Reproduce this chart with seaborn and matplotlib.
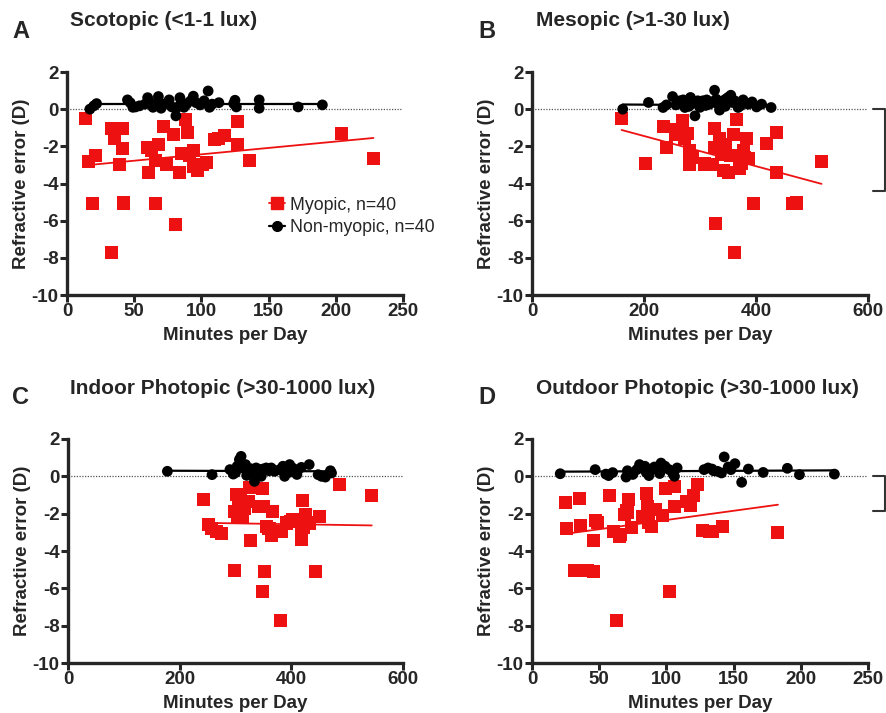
import matplotlib
matplotlib.use("Agg")
import matplotlib.pyplot as plt
from matplotlib.lines import Line2D
import seaborn as sns
import pandas as pd

# Panel A: scotopic light (<1-1 lux)
scot_myo_x = [14, 16, 21, 19, 33, 35, 37, 41, 41, 39, 42, 33, 60, 63, 61, 66, 68, 66, 72, 74,
              79, 81, 84, 85, 88, 90, 91, 94, 94, 97, 101, 104, 110, 113, 117, 127, 127, 136, 204, 228]
scot_myo_y = [-0.48, -2.8, -2.5, -5.1, -1.05, -1.6, -1.05, -1.05, -2.1, -3.0, -5.05, -7.7, -2.05, -2.2, -3.4, -2.75, -1.9, -5.1, -0.95, -3.0,
              -1.35, -6.2, -3.4, -2.4, -0.57, -1.25, -2.5, -2.2, -3.1, -3.3, -3.0, -2.85, -1.65, -1.6, -1.4, -0.65, -1.9, -2.75, -1.3, -2.65]
scot_non_x = [17, 20, 22, 45, 47, 49, 51, 54, 58, 60, 62, 64, 66, 68, 70, 72, 76, 78, 81, 82,
              84, 85, 87, 89, 92, 94, 96, 99, 102, 105, 106, 108, 113, 124, 125, 126, 143, 143, 172, 190]
scot_non_y = [0.0, 0.18, 0.3, 0.5, 0.35, 0.1, 0.12, 0.18, 0.27, 0.62, 0.35, 0.1, 0.3, 0.68, 0.05, 0.27, 0.5, 0.12, -0.36, 0.1,
              0.62, 0.4, 0.1, 0.27, 0.45, 0.7, 0.35, 0.23, 0.45, 0.98, 0.1, 0.27, 0.35, 0.3, 0.48, 0.12, 0.5, 0.05, 0.12, 0.23]
scot_fit_myo = ([17, 228], [-3.0, -1.55])
scot_fit_non = ([17, 190], [0.27, 0.27])

# Panel B: mesopic light (>1-30 lux)
meso_myo_x = [160, 202, 235, 241, 256, 257, 268, 272, 278, 282, 287, 282, 308, 322, 326, 326, 328, 335, 338, 340,
              342, 346, 351, 354, 359, 362, 366, 371, 374, 377, 380, 383, 387, 396, 418, 436, 437, 466, 472, 517]
meso_myo_y = [-0.48, -2.9, -0.95, -2.05, -1.07, -1.35, -0.6, -1.6, -1.3, -2.2, -2.6, -2.95, -2.95, -3.0, -1.05, -2.05, -6.15, -1.6, -2.45, -1.9,
              -3.3, -2.05, -3.4, -2.5, -1.35, -7.7, -0.57, -3.2, -2.9, -2.2, -2.6, -1.6, -2.65, -5.1, -1.87, -1.25, -3.43, -5.1, -5.05, -2.82]
meso_non_x = [162, 208, 234, 240, 251, 257, 264, 270, 273, 278, 283, 287, 291, 296, 305, 312, 317, 326, 329, 332,
              335, 341, 346, 350, 355, 358, 362, 368, 372, 377, 386, 393, 401, 410, 427, 280, 300, 310, 323, 345]
meso_non_y = [0.0, 0.36, 0.09, 0.23, 0.68, 0.23, 0.45, 0.5, 0.09, 0.36, 0.63, 0.3, -0.36, 0.45, 0.45, 0.5, 0.27, 1.02, 0.54, 0.27,
              -0.05, 0.45, 0.54, 0.63, 0.75, 0.36, 0.45, 0.09, 0.18, 0.5, 0.27, 0.39, 0.12, 0.27, 0.09, 0.15, 0.1, 0.2, 0.4, 0.15]
meso_fit_myo = ([160, 517], [-1.12, -4.02])
meso_fit_non = ([162, 430], [0.25, 0.2])

# Panel C: indoor photopic light (>30-1000 lux)
indo_myo_x = [243, 251, 257, 266, 275, 298, 298, 301, 303, 306, 309, 313, 316, 324, 325, 326, 342, 348, 349, 350,
              352, 355, 366, 364, 382, 381, 391, 403, 418, 418, 420, 421, 426, 433, 444, 450, 487, 544, 398, 360]
indo_myo_y = [-1.25, -2.6, -2.8, -2.95, -3.05, -5.05, -1.87, -0.98, -2.15, -1.5, -1.25, -2.15, -1.7, -1.35, -0.6, -3.43, -1.6, -6.15, -0.63, -1.6,
              -5.1, -2.7, -1.87, -3.15, -2.95, -7.7, -2.5, -2.3, -3.4, -3.1, -1.3, -2.75, -2.05, -2.5, -5.1, -2.15, -0.45, -1.05, -2.4, -2.8]
indo_non_x = [178, 258, 290, 296, 303, 307, 310, 313, 318, 322, 327, 330, 334, 337, 342, 346, 349, 355, 364, 370,
              379, 385, 388, 391, 397, 402, 412, 418, 432, 448, 454, 461, 470, 472, 300, 320, 340, 360, 395, 410]
indo_non_y = [0.27, 0.09, 0.36, 0.12, 0.54, 0.9, 1.07, 0.45, 0.63, 0.27, 0.41, 0.18, -0.27, 0.45, 0.36, 0.0, 0.39, 0.45, 0.45, 0.27,
              0.36, 0.54, 0.0, 0.36, 0.63, 0.45, 0.36, 0.48, 0.63, 0.09, 0.0, -0.04, 0.3, 0.18, 0.2, 0.05, 0.15, 0.3, 0.2, 0.1]
indo_fit_myo = ([260, 544], [-2.5, -2.63])
indo_fit_non = ([178, 472], [0.3, 0.27])

# Panel D: outdoor photopic light (>30-1000 lux)
outd_myo_x = [25, 26, 32, 35, 36, 41, 46, 46, 47, 49, 58, 61, 63, 65, 66, 69, 70, 71, 72, 74,
              82, 85, 86, 87, 89, 92, 97, 99, 102, 106, 106, 115, 118, 120, 123, 127, 132, 134, 142, 183]
outd_myo_y = [-1.4, -2.8, -5.05, -1.2, -2.65, -5.05, -5.1, -3.43, -2.35, -2.45, -1.03, -2.98, -7.7, -3.2, -3.12, -2.05, -1.85, -1.95, -1.25, -2.75,
              -2.15, -0.93, -1.6, -2.45, -2.7, -1.8, -2.1, -0.63, -6.15, -0.57, -1.6, -1.35, -1.57, -1.03, -0.45, -2.9, -2.95, -2.98, -2.68, -3.03]
outd_non_x = [21, 47, 55, 57, 70, 71, 78, 80, 82, 84, 85, 87, 89, 91, 93, 96, 99, 102, 105, 106,
              108, 128, 131, 134, 138, 141, 143, 146, 148, 151, 156, 161, 172, 190, 199, 225, 60, 75, 95, 135]
outd_non_y = [0.14, 0.36, 0.12, 0.04, -0.04, 0.3, 0.36, 0.63, 0.45, 0.54, 0.21, 0.04, 0.36, 0.5, 0.39, 0.71, 0.54, 0.36, 0.12, 0.0,
              0.45, 0.36, 0.45, 0.39, 0.27, 0.18, 1.04, 0.5, 0.36, 0.68, -0.32, 0.39, 0.21, 0.43, 0.09, 0.12, 0.2, 0.1, 0.15, 0.3]
outd_fit_myo = ([26, 183], [-3.07, -1.52])
outd_fit_non = ([21, 225], [0.25, 0.32])

# Significance brackets cut off at the right edge (y range)
bracket_meso_y = [0.0, -4.4]
bracket_outd_y = [0.0, -1.85]

panel_letters = ["A", "B", "C", "D"]
panel_titles = ["Scotopic (<1-1 lux)", "Mesopic (>1-30 lux)",
                "Indoor Photopic (>30-1000 lux)", "Outdoor Photopic (>30-1000 lux)"]
x_limits = [250, 600, 600, 250]
x_steps = [50, 200, 200, 50]
legend_labels = ["Myopic, n=40", "Non-myopic, n=40"]

RED = "#ee1111"
BLACK = "#000000"

sns.set_style("ticks")
plt.rcParams["font.family"] = ["Liberation Sans", "DejaVu Sans"]
plt.rcParams["font.weight"] = "bold"
plt.rcParams["axes.unicode_minus"] = False

fig = plt.figure(figsize=(8.86, 7.13), dpi=100)

W, H = 886, 713
ax_boxes = [(67, 72, 403, 295), (532, 72, 868, 295), (68, 439, 403, 663), (532, 439, 868, 663)]
letter_pos = [(12, 31), (478, 31), (12, 397), (478, 397)]
title_pos = [(70, 21), (536, 21), (70, 388), (536, 388)]

panels = [
    (scot_myo_x, scot_myo_y, scot_non_x, scot_non_y, scot_fit_myo, scot_fit_non),
    (meso_myo_x, meso_myo_y, meso_non_x, meso_non_y, meso_fit_myo, meso_fit_non),
    (indo_myo_x, indo_myo_y, indo_non_x, indo_non_y, indo_fit_myo, indo_fit_non),
    (outd_myo_x, outd_myo_y, outd_non_x, outd_non_y, outd_fit_myo, outd_fit_non),
]

axes = []
for i, (mx, my, nx, ny, fit_m, fit_n) in enumerate(panels):
    l, t, r, b = ax_boxes[i]
    ax = fig.add_axes([l / W, 1 - b / H, (r - l) / W, (b - t) / H])
    axes.append(ax)

    myo = pd.DataFrame({"minutes": mx, "refraction": my})
    non = pd.DataFrame({"minutes": nx, "refraction": ny})

    ax.axhline(0, color="#555555", lw=0.9, ls=(0, (1, 1.2)), zorder=1)

    sns.scatterplot(data=myo, x="minutes", y="refraction", ax=ax, marker="s",
                    color=RED, s=88, edgecolor="none", zorder=3)
    sns.scatterplot(data=non, x="minutes", y="refraction", ax=ax, marker="o",
                    color=BLACK, s=60, edgecolor="none", zorder=4)
    sns.lineplot(x=fit_m[0], y=fit_m[1], ax=ax, color=RED, lw=1.3, zorder=2)
    sns.lineplot(x=fit_n[0], y=fit_n[1], ax=ax, color=BLACK, lw=1.6, zorder=2)

    ax.set_xlim(0, x_limits[i])
    ax.set_ylim(-10, 2)
    ax.set_xticks(range(0, x_limits[i] + 1, x_steps[i]))
    ax.set_yticks(range(-10, 3, 2))
    ax.tick_params(axis="both", labelsize=13.5, width=2.2, length=5, pad=1)
    for lab in ax.get_xticklabels() + ax.get_yticklabels():
        lab.set_fontweight("bold")
    for side in ["left", "bottom"]:
        ax.spines[side].set_linewidth(2.4)
    sns.despine(ax=ax)

    ax.set_xlabel("Minutes per Day", fontsize=13.5, fontweight="bold", labelpad=5)
    ax.set_ylabel("Refractive error (D)", fontsize=13.5, fontweight="bold", labelpad=1)

    lx, ly = letter_pos[i]
    fig.text(lx / W, 1 - ly / H, panel_letters[i], fontsize=17, fontweight="bold", va="center")
    tx, ty = title_pos[i]
    fig.text(tx / W, 1 - ty / H, panel_titles[i], fontsize=15, fontweight="bold", va="center")

# Legend inside panel A
handles = [
    Line2D([], [], color=RED, marker="s", markersize=8.5, lw=1.3),
    Line2D([], [], color=BLACK, marker="o", markersize=7, lw=1.6),
]
leg = axes[0].legend(handles, legend_labels, loc="lower left", bbox_to_anchor=(0.575, 0.225),
                     frameon=False, handlelength=0.9, handletextpad=0.3, borderpad=0,
                     labelspacing=0.3, prop={"size": 12.8, "weight": "normal"})

# Brackets at right edge of panels B and D (partly cut off in the original)
for ax, by, xr in [(axes[1], bracket_meso_y, 600), (axes[3], bracket_outd_y, 250)]:
    x0, x1 = xr * 1.015, xr * 1.05
    ax.plot([x0, x1, x1, x0], [by[0], by[0], by[1], by[1]], color="#333333",
            lw=1.5, clip_on=False)

fig.savefig("out.png", dpi=100)
